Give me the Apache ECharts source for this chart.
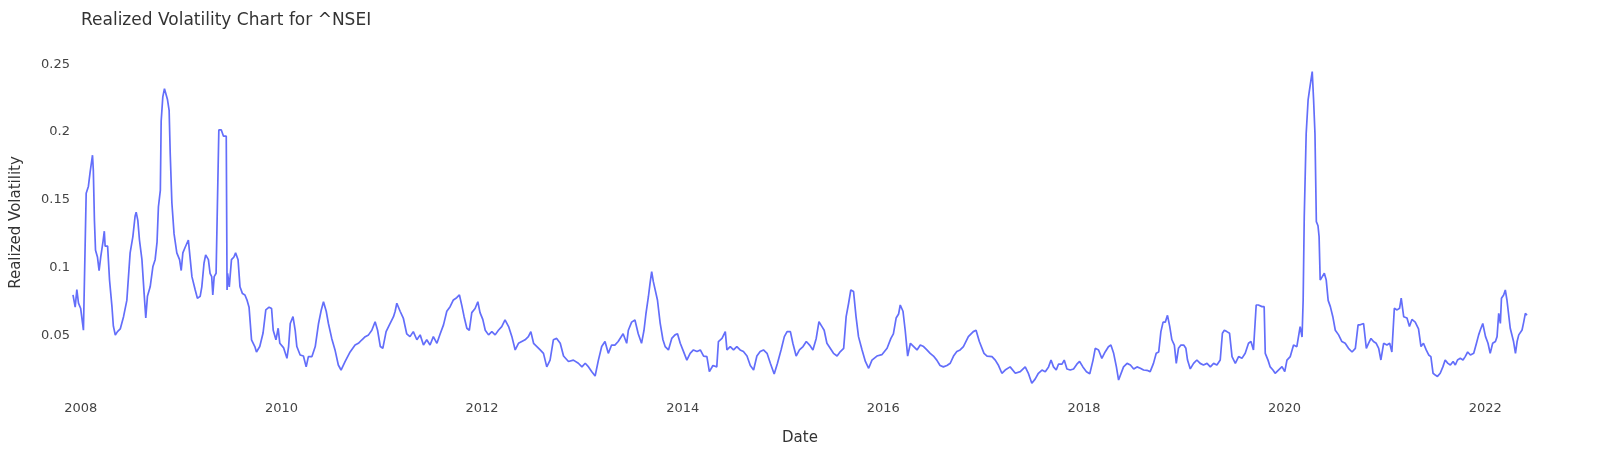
<!DOCTYPE html>
<html>
<head>
<meta charset="utf-8">
<script src="https://cdn.jsdelivr.net/npm/echarts@6/dist/echarts.min.js"></script>
<style>
html,body{margin:0;padding:0;background:#fff;}
#chart{width:1600px;height:474px;}
</style>
</head>
<body>
<div id="chart"></div>
<script>
const chartTitle = 'Realized Volatility Chart for ^NSEI';
const xAxisTitle = 'Date';
const yAxisTitle = 'Realized Volatility';
const xTickLabels = ['2008','2010','2012','2014','2016','2018','2020','2022'];
const yTickValues = [0.05, 0.1, 0.15, 0.2, 0.25];

const dates = [
'2007-12-04','2007-12-12','2007-12-18','2007-12-24',
'2008-01-01','2008-01-11','2008-01-21','2008-01-29','2008-02-04','2008-02-13','2008-02-16','2008-02-20','2008-02-24','2008-03-02','2008-03-08','2008-03-14','2008-03-22','2008-03-27','2008-03-30','2008-04-08','2008-04-15','2008-04-24','2008-04-29','2008-05-06','2008-05-14','2008-05-24','2008-06-05','2008-06-17','2008-06-29','2008-07-09','2008-07-17','2008-07-21','2008-07-27','2008-08-02','2008-08-11','2008-08-19','2008-08-25','2008-08-31','2008-09-10','2008-09-20','2008-09-28','2008-10-05','2008-10-10','2008-10-17','2008-10-20','2008-10-26','2008-11-01','2008-11-07','2008-11-12','2008-11-18','2008-11-22','2008-11-28','2008-12-06','2008-12-16','2008-12-26',
'2009-01-01','2009-01-07','2009-01-15','2009-01-27','2009-02-03','2009-02-09','2009-02-21','2009-03-01','2009-03-11','2009-03-17','2009-03-25','2009-03-31','2009-04-10','2009-04-16','2009-04-22','2009-04-26','2009-05-01','2009-05-08','2009-05-18','2009-05-27','2009-06-04','2009-06-14','2009-06-17','2009-06-19','2009-06-25','2009-07-03','2009-07-12','2009-07-18','2009-07-27','2009-08-03','2009-08-12','2009-08-21','2009-08-29','2009-09-05','2009-09-14','2009-09-26','2009-10-02','2009-10-14','2009-10-26','2009-11-05','2009-11-17','2009-11-26','2009-12-02','2009-12-12','2009-12-20','2009-12-26',
'2010-01-09','2010-01-21','2010-01-27','2010-02-02','2010-02-12','2010-02-20','2010-02-26','2010-03-10','2010-03-22','2010-04-01','2010-04-09','2010-04-22','2010-05-04','2010-05-16','2010-05-26','2010-06-03','2010-06-13','2010-06-21','2010-07-03','2010-07-15','2010-07-27','2010-08-06','2010-08-21','2010-09-08','2010-09-26','2010-10-08','2010-10-21','2010-11-02','2010-11-14','2010-11-26','2010-12-08','2010-12-17','2010-12-27',
'2011-01-05','2011-01-17','2011-01-29','2011-02-13','2011-02-19','2011-02-25','2011-03-09','2011-03-21','2011-04-02','2011-04-14','2011-04-26','2011-05-09','2011-05-21','2011-06-02','2011-06-14','2011-06-26','2011-07-08','2011-07-21','2011-08-02','2011-08-14','2011-08-26','2011-09-07','2011-09-19','2011-10-01','2011-10-11','2011-10-20','2011-10-28','2011-11-07','2011-11-16','2011-11-25','2011-12-07','2011-12-17','2011-12-25',
'2012-01-04','2012-01-13','2012-01-25','2012-02-06','2012-02-18','2012-03-01','2012-03-13','2012-03-25','2012-04-07','2012-04-19','2012-05-01','2012-05-13','2012-05-25','2012-06-06','2012-06-18','2012-06-27','2012-07-07','2012-07-19','2012-07-31','2012-08-12','2012-08-24','2012-09-05','2012-09-17','2012-09-29','2012-10-12','2012-10-24','2012-11-11','2012-11-29','2012-12-17','2012-12-30',
'2013-01-11','2013-01-23','2013-02-04','2013-02-16','2013-02-28','2013-03-12','2013-03-24','2013-04-05','2013-04-17','2013-04-29','2013-05-11','2013-05-29','2013-06-11','2013-06-17','2013-06-29','2013-07-11','2013-07-23','2013-08-04','2013-08-13','2013-08-20','2013-08-29','2013-09-04','2013-09-10','2013-09-16','2013-09-22','2013-10-01','2013-10-11','2013-10-21','2013-10-29','2013-11-10','2013-11-22','2013-12-04','2013-12-13','2013-12-23',
'2014-01-04','2014-01-16','2014-01-28','2014-02-09','2014-02-22','2014-03-06','2014-03-18','2014-03-30','2014-04-08','2014-04-21','2014-05-05','2014-05-11','2014-05-24','2014-06-05','2014-06-11','2014-06-23','2014-07-05','2014-07-17','2014-07-29','2014-08-10','2014-08-23','2014-09-04','2014-09-16','2014-09-28','2014-10-10','2014-10-22','2014-11-04','2014-11-16','2014-11-30','2014-12-12','2014-12-25',
'2015-01-06','2015-01-16','2015-01-28','2015-02-06','2015-02-18','2015-03-02','2015-03-15','2015-03-27','2015-04-08','2015-04-20','2015-05-02','2015-05-12','2015-05-23','2015-05-31','2015-06-10','2015-06-22','2015-07-04','2015-07-17','2015-07-29','2015-08-10','2015-08-19','2015-08-28','2015-09-05','2015-09-15','2015-09-24','2015-10-03','2015-10-16','2015-10-28','2015-11-09','2015-11-21','2015-12-09','2015-12-27',
'2016-01-15','2016-01-29','2016-02-07','2016-02-17','2016-02-26','2016-03-03','2016-03-13','2016-03-21','2016-03-30','2016-04-09','2016-04-21','2016-05-03','2016-05-15','2016-05-27','2016-06-08','2016-06-20','2016-07-02','2016-07-14','2016-07-26','2016-08-07','2016-08-20','2016-09-01','2016-09-13','2016-09-25','2016-10-07','2016-10-19','2016-11-06','2016-11-24','2016-12-04','2016-12-16',
'2017-01-02','2017-01-13','2017-01-31','2017-02-12','2017-02-24','2017-03-08','2017-03-20','2017-04-07','2017-04-26','2017-05-14','2017-06-01','2017-06-13','2017-06-25','2017-07-07','2017-07-19','2017-08-01','2017-08-13','2017-08-25','2017-09-03','2017-09-12','2017-09-22','2017-09-30','2017-10-13','2017-10-21','2017-10-31','2017-11-12','2017-11-24','2017-12-06','2017-12-16','2017-12-28',
'2018-01-10','2018-01-22','2018-02-03','2018-02-11','2018-02-23','2018-03-07','2018-03-19','2018-03-31','2018-04-09','2018-04-19','2018-04-29','2018-05-07','2018-05-25','2018-06-07','2018-06-19','2018-07-01','2018-07-13','2018-07-25','2018-08-06','2018-08-18','2018-08-30','2018-09-11','2018-09-21','2018-09-30','2018-10-08','2018-10-16','2018-10-24','2018-11-01','2018-11-09','2018-11-17','2018-11-26','2018-12-03','2018-12-11','2018-12-20','2018-12-30',
'2019-01-07','2019-01-13','2019-01-23','2019-02-04','2019-02-16','2019-02-28','2019-03-12','2019-03-25','2019-04-06','2019-04-18','2019-04-30','2019-05-12','2019-05-20','2019-05-27','2019-06-05','2019-06-15','2019-06-24','2019-07-06','2019-07-18','2019-07-30','2019-08-11','2019-08-23','2019-09-01','2019-09-10','2019-09-20','2019-09-28','2019-10-11','2019-10-19','2019-10-23','2019-11-02','2019-11-10','2019-11-20','2019-11-28','2019-12-10','2019-12-23',
'2020-01-02','2020-01-10','2020-01-22','2020-02-03','2020-02-15','2020-02-27','2020-03-05','2020-03-09','2020-03-13','2020-03-20','2020-03-27','2020-04-01','2020-04-07','2020-04-11','2020-04-16','2020-04-21','2020-04-26','2020-05-02','2020-05-06','2020-05-10','2020-05-16','2020-05-25','2020-06-01','2020-06-08','2020-06-16','2020-06-25','2020-07-04','2020-07-16','2020-07-28','2020-08-09','2020-08-21','2020-09-03','2020-09-15','2020-09-25','2020-10-03','2020-10-15','2020-10-25','2020-11-02','2020-11-11','2020-11-20','2020-11-30','2020-12-09','2020-12-17','2020-12-27',
'2021-01-08','2021-01-18','2021-01-26','2021-02-04','2021-02-14','2021-02-23','2021-03-01','2021-03-10','2021-03-22','2021-03-31','2021-04-09','2021-04-21','2021-05-03','2021-05-12','2021-05-21','2021-05-31','2021-06-09','2021-06-17','2021-06-25','2021-07-03','2021-07-11','2021-07-21','2021-07-31','2021-08-08','2021-08-18','2021-08-27','2021-09-06','2021-09-14','2021-09-22','2021-10-02','2021-10-12','2021-10-20','2021-10-29','2021-11-08','2021-11-20','2021-11-30','2021-12-08','2021-12-14','2021-12-23',
'2022-01-02','2022-01-11','2022-01-19','2022-01-28','2022-02-07','2022-02-13','2022-02-19','2022-02-25','2022-03-01','2022-03-09','2022-03-15','2022-03-21','2022-03-27','2022-04-02','2022-04-09','2022-04-14','2022-04-21','2022-04-27','2022-05-03','2022-05-09','2022-05-15','2022-05-21','2022-05-27','2022-06-02'
];

const volatility = [
0.080,0.071,0.084,0.074,
0.070,0.054,0.155,0.160,0.170,0.183,0.172,0.135,0.113,0.108,0.098,0.108,0.119,0.127,0.116,0.116,0.091,0.071,0.057,0.0505,0.053,0.055,0.064,0.076,0.111,0.123,0.138,0.141,0.135,0.1205,0.106,0.081,0.063,0.079,0.086,0.101,0.106,0.119,0.145,0.157,0.208,0.226,0.232,0.233,0.224,0.216,0.184,0.148,0.125,0.111,0.106,
0.098,0.111,0.115,0.1205,0.106,0.0935,0.0837,0.0776,0.079,0.086,0.1034,0.1095,0.106,0.096,0.0935,0.080,0.0935,0.096,0.2016,0.2016,0.197,0.197,0.0837,0.096,0.086,0.106,0.108,0.111,0.106,0.086,0.081,0.080,0.076,0.071,0.047,0.042,0.038,0.042,0.052,0.069,0.071,0.070,0.054,0.047,0.0555,0.0444,
0.041,0.0333,0.042,0.059,0.064,0.054,0.042,0.0358,0.035,0.027,0.0346,0.0346,0.042,0.059,0.069,0.075,0.068,0.059,0.048,0.0395,0.0284,0.0247,0.031,0.038,0.0431,0.0444,0.047,0.0493,0.0506,0.054,0.0603,0.054,0.042,
0.0407,0.053,0.058,0.064,0.068,0.0739,0.068,0.0627,0.0514,0.0493,0.053,0.047,0.0506,0.0431,0.047,0.0431,0.0493,0.0444,0.0514,0.058,0.068,0.0714,0.0763,0.078,0.080,0.072,0.064,0.0555,0.054,0.067,0.070,0.075,0.067,
0.062,0.054,0.0506,0.053,0.0506,0.054,0.0567,0.0616,0.0567,0.0493,0.0395,0.0444,0.0457,0.047,0.0493,0.053,0.0444,0.042,0.0395,0.037,0.027,0.032,0.047,0.048,0.0444,0.035,0.031,0.032,0.0297,0.027,
0.0297,0.027,0.0235,0.0203,0.032,0.042,0.0457,0.037,0.0431,0.0431,0.0457,0.0514,0.0444,0.054,0.060,0.0616,0.0514,0.0444,0.054,0.066,0.0787,0.0886,0.0972,0.0898,0.091,0.0763,0.059,0.047,0.042,0.0395,0.048,0.0506,0.0514,0.0444,
0.0383,0.032,0.037,0.0395,0.0383,0.0395,0.035,0.0346,0.0235,0.028,0.027,0.0457,0.048,0.053,0.0395,0.042,0.0395,0.042,0.0395,0.0383,0.035,0.028,0.0247,0.035,0.0383,0.0395,0.037,0.0297,0.0218,0.0297,0.0395,
0.0493,0.053,0.053,0.0444,0.035,0.0395,0.042,0.0457,0.0431,0.0395,0.048,0.0603,0.0567,0.054,0.0444,0.0407,0.037,0.035,0.0383,0.0407,0.064,0.0739,0.0837,0.0825,0.064,0.0493,0.0395,0.031,0.026,0.032,0.035,0.036,
0.0407,0.048,0.0514,0.063,0.066,0.0726,0.068,0.054,0.035,0.0444,0.042,0.0395,0.0431,0.042,0.0395,0.037,0.035,0.032,0.028,0.027,0.028,0.0297,0.035,0.0383,0.0395,0.042,0.0493,0.053,0.054,0.0457,
0.037,0.035,0.0346,0.032,0.028,0.0223,0.0247,0.027,0.0223,0.0235,0.027,0.022,0.0149,0.018,0.0223,0.0247,0.0235,0.027,0.0321,0.027,0.0247,0.029,0.029,0.032,0.0255,0.0247,0.0255,0.029,0.031,0.027,
0.0235,0.022,0.032,0.0407,0.0395,0.0333,0.038,0.0419,0.0431,0.037,0.027,0.0173,0.027,0.0296,0.0284,0.0255,0.027,0.026,0.0247,0.0245,0.0235,0.0296,0.037,0.038,0.053,0.060,0.060,0.065,0.057,0.047,0.043,0.0296,0.0407,0.0431,0.0431,
0.0407,0.032,0.0255,0.0296,0.0321,0.0296,0.0284,0.0296,0.027,0.0296,0.0284,0.0321,0.0518,0.054,0.053,0.0518,0.0346,0.0296,0.0346,0.0333,0.037,0.0444,0.0457,0.0395,0.0726,0.0726,0.0714,0.0714,0.037,0.032,0.027,0.0247,0.0223,0.0247,0.0272,
0.0235,0.032,0.0346,0.0431,0.0419,0.0567,0.049,0.0763,0.138,0.199,0.2237,0.231,0.231,0.2446,0.2237,0.199,0.134,0.131,0.123,0.091,0.093,0.096,0.091,0.076,0.0714,0.064,0.054,0.0506,0.0457,0.0444,0.0407,0.038,0.0407,0.058,0.058,0.059,0.0407,0.0444,0.048,0.0457,0.0444,0.0407,0.0321,0.0444,
0.0431,0.0444,0.038,0.0702,0.069,0.0702,0.0776,0.064,0.063,0.0567,0.062,0.060,0.055,0.042,0.0444,0.0395,0.0358,0.0346,0.0223,0.021,0.020,0.0223,0.0272,0.0321,0.0296,0.0284,0.031,0.0284,0.0321,0.0333,0.0321,0.0346,0.038,0.0358,0.037,0.0444,0.0506,0.0542,0.059,
0.0493,0.0444,0.037,0.0444,0.0457,0.0493,0.0665,0.059,0.0776,0.080,0.0837,0.0763,0.0776,0.0555,0.0555,0.0457,0.037,0.0457,0.0506,0.050,0.0542,0.060,0.0665,0.065
];

const FONT = '"DejaVu Sans", Verdana, sans-serif';
const TEXT = '#444';

function toTime(s) {
  const p = s.split('-').map(Number);
  return Date.UTC(p[0], p[1] - 1, p[2]);
}
const seriesData = dates.map((d, i) => [toTime(d), volatility[i]]);
const xTickValues = xTickLabels.map(y => Date.UTC(Number(y), 0, 1));

const chart = echarts.init(document.getElementById('chart'), null, {renderer: 'canvas'});
chart.setOption({
  animation: false,
  backgroundColor: '#fff',
  textStyle: {fontFamily: FONT, color: TEXT},
  title: {
    text: chartTitle,
    left: 76, top: 7,
    textStyle: {fontFamily: FONT, fontSize: 17, fontWeight: 'normal', color: '#333'}
  },
  grid: {left: 73, right: 73, top: 50, bottom: 79, containLabel: false},
  xAxis: {
    type: 'value',
    min: seriesData[0][0],
    max: seriesData[seriesData.length - 1][0],
    name: xAxisTitle,
    nameLocation: 'middle',
    nameGap: 36,
    nameTextStyle: {fontFamily: FONT, fontSize: 15, color: '#333'},
    axisLine: {show: false},
    axisTick: {show: false},
    splitLine: {show: false},
    axisLabel: {
      customValues: xTickValues,
      margin: 7,
      fontFamily: FONT, fontSize: 13, color: TEXT,
      formatter: v => String(new Date(v).getUTCFullYear())
    }
  },
  yAxis: {
    type: 'value',
    min: 0.0063,
    max: 0.2605,
    name: yAxisTitle,
    nameLocation: 'middle',
    nameGap: 49,
    nameRotate: 90,
    nameTextStyle: {fontFamily: FONT, fontSize: 15, color: '#333'},
    axisLine: {show: false},
    axisTick: {show: false},
    splitLine: {show: false},
    axisLabel: {
      customValues: yTickValues,
      margin: 3,
      fontFamily: FONT, fontSize: 13, color: TEXT,
      formatter: v => String(v)
    }
  },
  series: [{
    type: 'line',
    data: seriesData,
    showSymbol: false,
    symbol: 'none',
    lineStyle: {color: '#636efa', width: 1.7},
    itemStyle: {color: '#636efa'}
  }]
});
</script>
</body>
</html>
